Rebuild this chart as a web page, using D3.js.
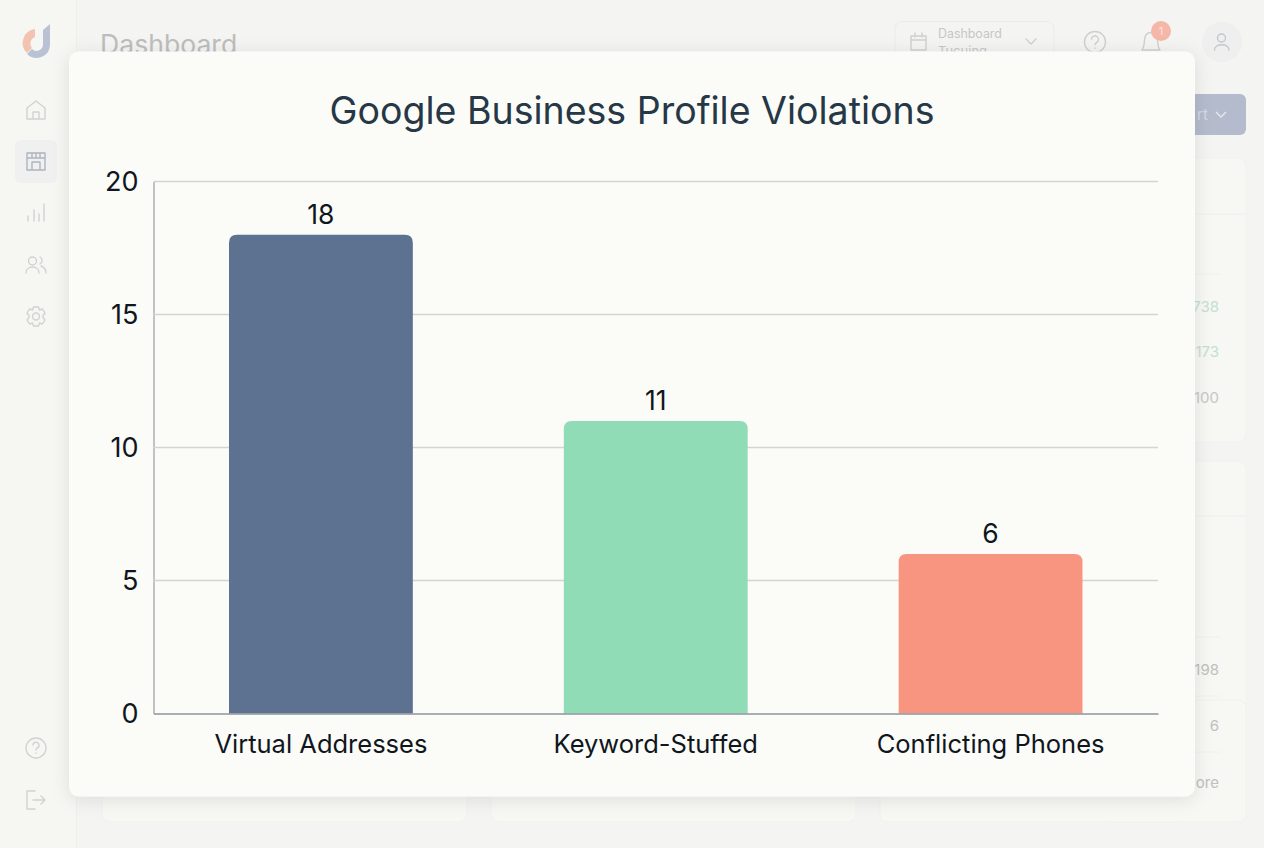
<!DOCTYPE html>
<html><head><meta charset="utf-8">
<script src="https://cdn.jsdelivr.net/npm/d3@7/dist/d3.min.js"></script>
<style>
html,body{margin:0;padding:0;background:#f4f4f2;overflow:hidden}
svg{display:block;font-family:Inter,"Noto Sans",sans-serif}
</style></head><body><svg id="c" width="1264" height="848"></svg>
<script>
const categories = ["Virtual Addresses", "Keyword-Stuffed", "Conflicting Phones"];
const values = [18, 11, 6];
const barColors = ["#5d7191", "#90dcb6", "#f89580"];
const yTicks = [0, 5, 10, 15, 20];
const chartTitle = "Google Business Profile Violations";

const svg = d3.select("#c");
const defs = svg.append("defs");
const f = defs.append("filter").attr("id","sh").attr("x","-10%").attr("y","-10%").attr("width","120%").attr("height","120%");
f.append("feDropShadow").attr("dx",0).attr("dy",3).attr("stdDeviation",9).attr("flood-color","#000").attr("flood-opacity",0.10);

// faded dashboard behind the card
const bg = svg.append("g");
bg.append("rect").attr("width",1264).attr("height",848).attr("fill","#f4f4f2");
bg.append("rect").attr("width",77).attr("height",848).attr("fill","#f6f6f3");
bg.append("line").attr("x1",76.5).attr("x2",76.5).attr("y1",0).attr("y2",848).attr("stroke","#eeeeeb");
bg.append("text").attr("x",100).attr("y",54).attr("font-size",26.6).attr("fill","#bcbdbd").text("Dashboard");

// logo
bg.append("path").attr("d","M35 29 A14 14 0 0 0 27 53 L32 48 A7 7 0 0 1 35 37 Z").attr("fill","#f3c3b2");
bg.append("path").attr("d","M50 24 V44 A13.500 13.500 0 0 1 27 54 L32 49 A6.500 6.500 0 0 0 43 44 V30 Z").attr("fill","#b9c1d4");

// nav
bg.append("rect").attr("x",15).attr("y",140).attr("width",42).attr("height",43).attr("rx",6).attr("fill","#eff0ef");
const ic = bg.append("g").attr("fill","none").attr("stroke","#d2d3d0").attr("stroke-width",1.4).attr("stroke-linecap","round").attr("stroke-linejoin","round");
ic.append("path").attr("d","M27 108 L36 101 L45 108 V119 H27 Z M33 119 V112 H39 V119");
ic.append("path").attr("d","M27 153 H45 V170 H27 Z M27 158 H45 M32 153 V158 M36 153 V158 M40 153 V158 M32 170 V162 H40 V170").attr("stroke","#afb4c0");
ic.append("path").attr("d","M28 221 V216 M34 221 V210 M39 221 V214 M44 221 V204");
ic.append("path").attr("d","M26 273 C26 265 39 265 39 273 M28.5 261 a4 4 0 1 0 8 0 a4 4 0 1 0 -8 0 M40 257 a4 4 0 0 1 0 7 M41 266 C44 267 46 269 46 273");
ic.append("circle").attr("cx",36).attr("cy",316.5).attr("r",3.5);
ic.append("path").attr("d","M33.5 307 H38.500 L39.500 310 L42.500 309 L45 313 L43 315.500 V317.500 L45 320 L42.500 324 L39.500 323 L38.500 326 H33.500 L32.500 323 L29.500 324 L27 320 L29 317.500 V315.500 L27 313 L29.500 309 L32.500 310 Z");
ic.append("circle").attr("cx",36).attr("cy",748).attr("r",10);
ic.append("path").attr("d","M33 745 a3 3 0 1 1 4 3 l-1 2 M36 753 v.2");
ic.append("path").attr("d","M35 791 H27 V809 H35 M33 800 H45 M41 796 L45 800 L41 804");

// header controls
bg.append("rect").attr("x",895).attr("y",21.5).attr("width",159).attr("height",50).attr("rx",7).attr("fill","#f4f4f2").attr("stroke","#ebecea");
const ic2 = bg.append("g").attr("fill","none").attr("stroke","#cfd0ce").attr("stroke-width",1.4).attr("stroke-linecap","round").attr("stroke-linejoin","round");
ic2.append("path").attr("d","M911 36 H926 V50 H911 Z M911 40 H926 M915 33 V37 M922 33 V37");
ic2.append("path").attr("d","M1026 39 L1031 44 L1036 39");
bg.append("text").attr("x",938).attr("y",38).attr("font-size",12.4).attr("fill","#c6c7c6").text("Dashboard");
bg.append("text").attr("x",938).attr("y",56).attr("font-size",13).attr("fill","#c6c7c6").text("Tucuing");
ic2.append("circle").attr("cx",1095).attr("cy",42).attr("r",10.5);
ic2.append("path").attr("d","M1091.5 39 a3.5 3.5 0 1 1 5 3.5 l-1.5 2 M1095 48 v.2");
ic2.append("path").attr("d","M1142 50 C1145 46 1144 40 1145 37 C1147 31 1155 31 1157 37 C1158 40 1157 46 1160 50 Z");
bg.append("circle").attr("cx",1161).attr("cy",31).attr("r",10).attr("fill","#f4b7a8");
bg.append("text").attr("x",1161).attr("y",35).attr("text-anchor","middle").attr("font-size",11).attr("fill","#fbe4de").text("1");
bg.append("circle").attr("cx",1222).attr("cy",42).attr("r",20).attr("fill","#eeefee");
const ic3 = bg.append("g").attr("fill","none").attr("stroke","#c4c7cc").attr("stroke-width",1.4).attr("stroke-linecap","round");
ic3.append("circle").attr("cx",1221.5).attr("cy",38).attr("r",4);
ic3.append("path").attr("d","M1214.5 50 C1214.5 43 1229 43 1229 50");

// export button + right panels
bg.append("rect").attr("x",1150).attr("y",94).attr("width",96).attr("height",41).attr("rx",6).attr("fill","#b4bbcc");
bg.append("text").attr("x",1197).attr("y",120).attr("font-size",15).attr("fill","#d5d9e2").text("rt");
bg.append("path").attr("d","M1216 112 L1221 117 L1226 112").attr("fill","none").attr("stroke","#e7e9ee").attr("stroke-width",1.4);
const panel = (x,y,w,h) => bg.append("rect").attr("x",x).attr("y",y).attr("width",w).attr("height",h).attr("rx",8).attr("fill","#f7f7f4").attr("stroke","#f1f1ee");
panel(1100,158,146,284);
panel(1100,461,146,361);
panel(102,700,365,122);
panel(491,700,365,122);
panel(880,700,366,122);
[[214,1246],[516,1246]].forEach(([y,x2]) =>
  bg.append("line").attr("x1",1190).attr("x2",x2).attr("y1",y).attr("y2",y).attr("stroke","#eeeeeb"));
[274,637,696,752].forEach(y =>
  bg.append("line").attr("x1",1190).attr("x2",1220).attr("y1",y).attr("y2",y).attr("stroke","#f0f0ed"));
[["738",312,"#c3e0d2"],["173",357,"#c3e0d2"],["100",403,"#c8c8c6"],["198",675,"#c0c0be"],["6",731,"#c0c0be"],["ore",788,"#c0c0be"]].forEach(([t,y,c]) =>
  bg.append("text").attr("x",1219).attr("y",y).attr("text-anchor","end").attr("font-size",15).attr("fill",c).text(t));

// card
svg.append("rect").attr("x",69).attr("y",51.5).attr("width",1126).attr("height",745).attr("rx",10)
  .attr("fill","#fbfbf7").attr("filter","url(#sh)");

svg.append("text").attr("x",632).attr("y",124).attr("text-anchor","middle")
  .attr("font-size",37.5).attr("fill","#263746").text(chartTitle);

// chart
const plotL=153.5,plotR=1158,plotT=181.5,plotB=713.5;
const x = d3.scaleBand().domain(categories).range([plotL,plotR]).paddingInner(0.451).paddingOuter(0.2255);
const y = d3.scaleLinear().domain([0,20]).range([plotB,plotT]);

const yAxis = svg.append("g").attr("transform",`translate(${plotL},0)`)
  .call(d3.axisLeft(y).tickValues(yTicks).tickSize(0).tickPadding(15));
yAxis.select(".domain").attr("stroke","#9a9ea3").attr("stroke-width",1.2);
yAxis.selectAll("text").attr("font-size",27).attr("fill","#10161d").attr("font-family","Inter");

const grid = svg.append("g");
grid.selectAll("line").data(yTicks.filter(d=>d>0)).join("line")
  .attr("x1",plotL).attr("x2",plotR).attr("y1",d=>y(d)).attr("y2",d=>y(d))
  .attr("stroke","#d2d5d0").attr("stroke-width",1.3);

const r = 8;
svg.append("g").selectAll("path").data(categories).join("path")
  .attr("fill",(d,i)=>barColors[i])
  .attr("d",(d,i)=>{
    const x0=x(d),w=x.bandwidth(),yt=y(values[i]);
    return `M${x0} ${plotB}V${yt+r}Q${x0} ${yt} ${x0+r} ${yt}H${x0+w-r}Q${x0+w} ${yt} ${x0+w} ${yt+r}V${plotB}Z`;
  });

const xAxis = svg.append("g").attr("transform",`translate(0,${plotB})`)
  .call(d3.axisBottom(x).tickSize(0).tickPadding(21));
xAxis.select(".domain").attr("stroke","#8d949e").attr("stroke-width",1.5);
xAxis.selectAll("text").attr("font-size",25.5).attr("fill","#10161d").attr("font-family","Inter");

svg.append("g").selectAll("text").data(categories).join("text")
  .attr("x",d=>x(d)+x.bandwidth()/2)
  .attr("y",(d,i)=>y(values[i])-10.5)
  .attr("text-anchor","middle").attr("font-size",26.5).attr("fill","#10161d")
  .text((d,i)=>values[i]);
</script></body></html>
